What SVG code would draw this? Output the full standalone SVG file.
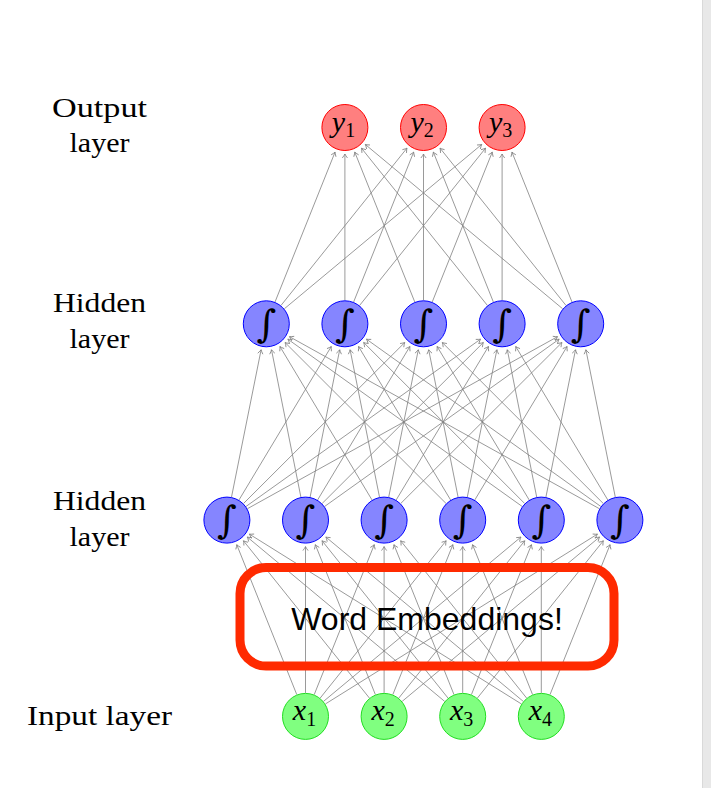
<svg xmlns="http://www.w3.org/2000/svg" width="711" height="788" viewBox="0 0 711 788">
<style>
.lbl{font-family:"Liberation Serif","DejaVu Serif",serif;font-size:28px;fill:#000;text-anchor:middle}
.e line{stroke:#808080;stroke-width:0.8;marker-end:url(#arr)}
.o{fill:#ff7f7f;stroke:#ff0000;stroke-width:1}
.h{fill:#8585ff;stroke:#0000ff;stroke-width:1}
.i{fill:#80ff80;stroke:#22dd22;stroke-width:1}
.m{font-family:"Liberation Serif","DejaVu Serif",serif;font-style:italic;font-size:30px;fill:#000;text-anchor:middle}
.s{font-style:normal;font-size:20px}
.int{font-family:"DejaVu Serif","Liberation Serif",serif;font-size:38px;fill:#000;text-anchor:middle}
</style>
<defs>
<marker id="arr" markerUnits="userSpaceOnUse" orient="auto" overflow="visible" markerWidth="1" markerHeight="1" refX="0" refY="0">
<path d="M-4,-2.6 Q-1.2,-0.5 0,0 Q-1.2,0.5 -4,2.6" fill="none" stroke="#808080" stroke-width="0.8"/>
</marker>
</defs>
<rect x="0" y="0" width="711" height="788" fill="#ffffff"/>
<rect x="702" y="0" width="9" height="788" fill="#e8e8e8"/>
<line x1="702.5" y1="0" x2="702.5" y2="788" stroke="#d9d9d9" stroke-width="1"/>

<g id="labels">
<text class="lbl" x="99.5" y="117" textLength="95" lengthAdjust="spacingAndGlyphs">Output</text>
<text class="lbl" x="99.5" y="152" textLength="60" lengthAdjust="spacingAndGlyphs">layer</text>
<text class="lbl" x="99.5" y="312" textLength="93" lengthAdjust="spacingAndGlyphs">Hidden</text>
<text class="lbl" x="99.5" y="348" textLength="60" lengthAdjust="spacingAndGlyphs">layer</text>
<text class="lbl" x="99.5" y="510" textLength="93" lengthAdjust="spacingAndGlyphs">Hidden</text>
<text class="lbl" x="99.5" y="545.5" textLength="60" lengthAdjust="spacingAndGlyphs">layer</text>
<text class="lbl" x="99.5" y="725" textLength="145" lengthAdjust="spacingAndGlyphs">Input layer</text>
</g>

<g id="connectors" class="e">
<line x1="296.77" y1="694.58" x2="236.75" y2="544.7"/>
<line x1="305.5" y1="692.9" x2="305.5" y2="546.6"/>
<line x1="314.23" y1="694.58" x2="374.25" y2="544.7"/>
<line x1="320.19" y1="698.06" x2="446.14" y2="540.78"/>
<line x1="323.56" y1="701.36" x2="520.93" y2="537.05"/>
<line x1="325.43" y1="703.95" x2="597.42" y2="534.13"/>
<line x1="369.41" y1="698.06" x2="243.46" y2="540.78"/>
<line x1="375.37" y1="694.58" x2="315.35" y2="544.7"/>
<line x1="384.1" y1="692.9" x2="384.1" y2="546.6"/>
<line x1="392.83" y1="694.58" x2="452.85" y2="544.7"/>
<line x1="398.79" y1="698.06" x2="524.74" y2="540.78"/>
<line x1="402.16" y1="701.36" x2="599.53" y2="537.05"/>
<line x1="444.64" y1="701.36" x2="247.27" y2="537.05"/>
<line x1="448.01" y1="698.06" x2="322.06" y2="540.78"/>
<line x1="453.97" y1="694.58" x2="393.95" y2="544.7"/>
<line x1="462.7" y1="692.9" x2="462.7" y2="546.6"/>
<line x1="471.43" y1="694.58" x2="531.45" y2="544.7"/>
<line x1="477.39" y1="698.06" x2="603.34" y2="540.78"/>
<line x1="521.37" y1="703.95" x2="249.38" y2="534.13"/>
<line x1="523.24" y1="701.36" x2="325.87" y2="537.05"/>
<line x1="526.61" y1="698.06" x2="400.66" y2="540.78"/>
<line x1="532.57" y1="694.58" x2="472.55" y2="544.7"/>
<line x1="541.3" y1="692.9" x2="541.3" y2="546.6"/>
<line x1="550.03" y1="694.58" x2="610.05" y2="544.7"/>

<line x1="231.51" y1="497.06" x2="261.1" y2="349.78"/>
<line x1="239.0" y1="499.95" x2="331.26" y2="346.52"/>
<line x1="243.53" y1="503.49" x2="404.75" y2="342.53"/>
<line x1="246.03" y1="506.45" x2="480.53" y2="339.19"/>
<line x1="247.45" y1="508.7" x2="557.53" y2="336.66"/>
<line x1="300.89" y1="497.06" x2="271.5" y2="349.78"/>
<line x1="310.11" y1="497.06" x2="339.7" y2="349.78"/>
<line x1="317.6" y1="499.95" x2="409.86" y2="346.52"/>
<line x1="322.13" y1="503.49" x2="483.35" y2="342.53"/>
<line x1="324.63" y1="506.45" x2="559.13" y2="339.19"/>
<line x1="372.0" y1="499.95" x2="279.94" y2="346.52"/>
<line x1="379.49" y1="497.06" x2="350.1" y2="349.78"/>
<line x1="388.71" y1="497.06" x2="418.3" y2="349.78"/>
<line x1="396.2" y1="499.95" x2="488.46" y2="346.52"/>
<line x1="400.73" y1="503.49" x2="561.95" y2="342.53"/>
<line x1="446.07" y1="503.49" x2="285.05" y2="342.53"/>
<line x1="450.6" y1="499.95" x2="358.54" y2="346.52"/>
<line x1="458.09" y1="497.06" x2="428.7" y2="349.78"/>
<line x1="467.31" y1="497.06" x2="496.9" y2="349.78"/>
<line x1="474.8" y1="499.95" x2="567.06" y2="346.52"/>
<line x1="522.17" y1="506.45" x2="287.87" y2="339.19"/>
<line x1="524.67" y1="503.49" x2="363.65" y2="342.53"/>
<line x1="529.2" y1="499.95" x2="437.14" y2="346.52"/>
<line x1="536.69" y1="497.06" x2="507.3" y2="349.78"/>
<line x1="545.91" y1="497.06" x2="575.5" y2="349.78"/>
<line x1="599.35" y1="508.7" x2="289.47" y2="336.66"/>
<line x1="600.77" y1="506.45" x2="366.47" y2="339.19"/>
<line x1="603.27" y1="503.49" x2="442.25" y2="342.53"/>
<line x1="607.8" y1="499.95" x2="515.74" y2="346.52"/>
<line x1="615.29" y1="497.06" x2="585.9" y2="349.78"/>

<line x1="275.03" y1="301.98" x2="335.05" y2="152.1"/>
<line x1="280.99" y1="305.46" x2="406.94" y2="148.18"/>
<line x1="284.36" y1="308.76" x2="481.73" y2="144.45"/>
<line x1="344.9" y1="300.3" x2="344.9" y2="154.0"/>
<line x1="353.63" y1="301.98" x2="413.65" y2="152.1"/>
<line x1="359.59" y1="305.46" x2="485.54" y2="148.18"/>
<line x1="414.77" y1="301.98" x2="354.75" y2="152.1"/>
<line x1="423.5" y1="300.3" x2="423.5" y2="154.0"/>
<line x1="432.23" y1="301.98" x2="492.25" y2="152.1"/>
<line x1="487.41" y1="305.46" x2="361.46" y2="148.18"/>
<line x1="493.37" y1="301.98" x2="433.35" y2="152.1"/>
<line x1="502.1" y1="300.3" x2="502.1" y2="154.0"/>
<line x1="562.64" y1="308.76" x2="365.27" y2="144.45"/>
<line x1="566.01" y1="305.46" x2="440.06" y2="148.18"/>
<line x1="571.97" y1="301.98" x2="511.95" y2="152.1"/>
</g>

<g id="out1"><circle class="o" cx="344.9" cy="127.5" r="23"/><text class="m" x="343.5" y="132">y<tspan class="s" dy="4.5">1</tspan></text></g>
<g id="out2"><circle class="o" cx="423.5" cy="127.5" r="23"/><text class="m" x="422.1" y="132">y<tspan class="s" dy="4.5">2</tspan></text></g>
<g id="out3"><circle class="o" cx="502.1" cy="127.5" r="23"/><text class="m" x="500.7" y="132">y<tspan class="s" dy="4.5">3</tspan></text></g>

<g id="h2n1"><circle class="h" cx="266.3" cy="323.8" r="23"/><text class="int" x="266.3" y="336.5">∫</text></g>
<g id="h2n2"><circle class="h" cx="344.9" cy="323.8" r="23"/><text class="int" x="344.9" y="336.5">∫</text></g>
<g id="h2n3"><circle class="h" cx="423.5" cy="323.8" r="23"/><text class="int" x="423.5" y="336.5">∫</text></g>
<g id="h2n4"><circle class="h" cx="502.1" cy="323.8" r="23"/><text class="int" x="502.1" y="336.5">∫</text></g>
<g id="h2n5"><circle class="h" cx="580.7" cy="323.8" r="23"/><text class="int" x="580.7" y="336.5">∫</text></g>

<g id="h1n1"><circle class="h" cx="226.9" cy="520.1" r="23"/><text class="int" x="226.9" y="532.8">∫</text></g>
<g id="h1n2"><circle class="h" cx="305.5" cy="520.1" r="23"/><text class="int" x="305.5" y="532.8">∫</text></g>
<g id="h1n3"><circle class="h" cx="384.1" cy="520.1" r="23"/><text class="int" x="384.1" y="532.8">∫</text></g>
<g id="h1n4"><circle class="h" cx="462.7" cy="520.1" r="23"/><text class="int" x="462.7" y="532.8">∫</text></g>
<g id="h1n5"><circle class="h" cx="541.3" cy="520.1" r="23"/><text class="int" x="541.3" y="532.8">∫</text></g>
<g id="h1n6"><circle class="h" cx="619.9" cy="520.1" r="23"/><text class="int" x="619.9" y="532.8">∫</text></g>

<g id="in1"><circle class="i" cx="305.5" cy="716.4" r="23"/><text class="m" x="304.5" y="720">x<tspan class="s" dy="6">1</tspan></text></g>
<g id="in2"><circle class="i" cx="384.1" cy="716.4" r="23"/><text class="m" x="383.1" y="720">x<tspan class="s" dy="6">2</tspan></text></g>
<g id="in3"><circle class="i" cx="462.7" cy="716.4" r="23"/><text class="m" x="461.7" y="720">x<tspan class="s" dy="6">3</tspan></text></g>
<g id="in4"><circle class="i" cx="541.3" cy="716.4" r="23"/><text class="m" x="540.3" y="720">x<tspan class="s" dy="6">4</tspan></text></g>

<g id="embeddings">
<rect x="240" y="567.5" width="374" height="98.5" rx="26" ry="26" fill="none" stroke="#ff2a00" stroke-width="9"/>
<text x="427" y="629.5" font-family="'Liberation Sans', Arial, sans-serif" font-size="32" fill="#000" text-anchor="middle">Word Embeddings!</text>
</g>
</svg>
